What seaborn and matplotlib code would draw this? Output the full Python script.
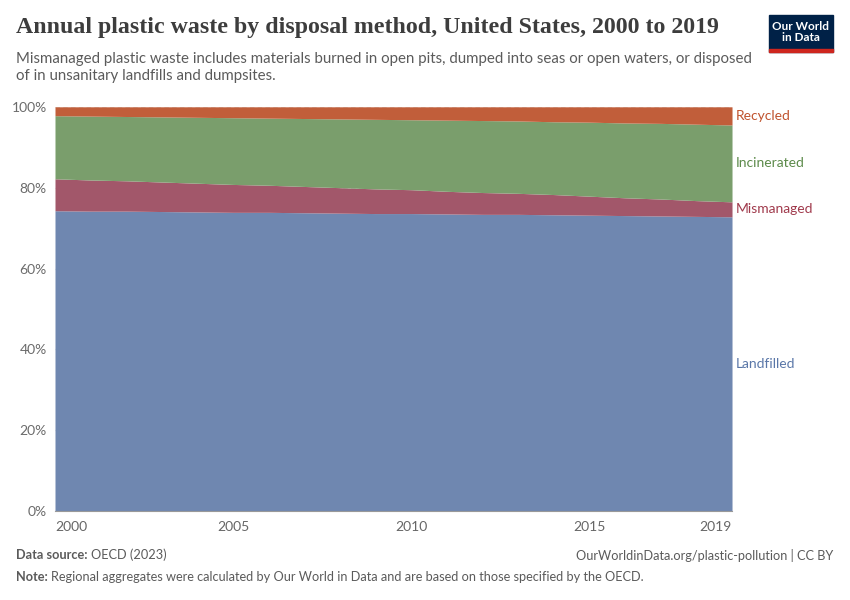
import numpy as np
import pandas as pd
import seaborn as sns
import matplotlib.pyplot as plt
from matplotlib.patches import Rectangle
from matplotlib.transforms import offset_copy

years = list(range(2000, 2020))
landfilled = [74.3, 74.2, 74.2, 74.1, 74.0, 73.9, 73.9, 73.8, 73.7, 73.6,
              73.6, 73.5, 73.4, 73.4, 73.3, 73.2, 73.1, 73.0, 72.9, 72.8]
mismanaged = [7.9, 7.7, 7.5, 7.3, 7.1, 6.9, 6.7, 6.5, 6.3, 6.1,
              5.9, 5.6, 5.4, 5.2, 5.0, 4.7, 4.4, 4.2, 3.9, 3.7]
incinerated = [15.6, 15.8, 15.9, 16.1, 16.3, 16.5, 16.6, 16.8, 17.0, 17.2,
               17.3, 17.6, 17.8, 17.9, 18.0, 18.3, 18.5, 18.7, 18.9, 19.0]
recycled = [2.2, 2.3, 2.4, 2.5, 2.6, 2.7, 2.8, 2.9, 3.0, 3.1,
            3.2, 3.3, 3.4, 3.5, 3.7, 3.8, 4.0, 4.1, 4.3, 4.5]

series_names = ['Landfilled', 'Mismanaged', 'Incinerated', 'Recycled']
fill_colors = ['#6F87B0', '#A2576A', '#7A9E6C', '#C15E3A']
label_colors = ['#5A77A8', '#A03A4C', '#5C8A4A', '#C0532E']
xticks = [2000, 2005, 2010, 2015, 2019]
yticks = [0, 20, 40, 60, 80, 100]

df = pd.DataFrame({'year': years, 'Landfilled': landfilled, 'Mismanaged': mismanaged,
                   'Incinerated': incinerated, 'Recycled': recycled})

sns.set_style("white")
plt.rcParams['font.family'] = ['Lato', 'DejaVu Sans']

fig = plt.figure(figsize=(8.5, 6), dpi=100)
ax = fig.add_axes([0.0647, 0.148, 0.7965, 0.674])

for y in yticks:
    ax.axhline(y, color='#dddddd', lw=0.8, ls=(0, (4, 3)), zorder=0)

ax.stackplot(df['year'], [df[s] for s in series_names], colors=fill_colors,
             lw=0, zorder=2)

ax.set_xlim(2000, 2019)
ax.set_ylim(0, 100)
ax.set_xticks(xticks)
xl = ax.set_xticklabels([str(x) for x in xticks], fontsize=10, color='#666666')
xl[0].set_ha('left')
xl[-1].set_ha('right')
ax.set_yticks(yticks)
ax.set_yticklabels([f'{y}%' for y in yticks], fontsize=10, color='#6b6b6b')
ax.tick_params(axis='x', length=5, color='#999999', pad=2)
ax.tick_params(axis='y', length=0, pad=6)
for sp in ['top', 'right', 'left']:
    ax.spines[sp].set_visible(False)
ax.spines['bottom'].set_color('#999999')
ax.spines['bottom'].set_linewidth(0.8)

# right-side labels at mid of each band in final year
cum = 0
tr = offset_copy(ax.transData, fig=fig, x=4, y=0, units='dots')
for name, col in zip(series_names, label_colors):
    v = df[name].iloc[-1]
    mid = cum + v / 2
    cum += v
    ax.text(2019, mid, name, color=col, fontsize=10, va='center', ha='left', transform=tr)

fig.text(0.019, 0.955, 'Annual plastic waste by disposal method, United States, 2000 to 2019',
         family=['Liberation Serif', 'DejaVu Serif'], fontsize=17.2, fontweight='bold',
         color='#3d3d3d', va='center', ha='left')
fig.text(0.019, 0.888, 'Mismanaged plastic waste includes materials burned in open pits, dumped into seas or open waters, or disposed\nof in unsanitary landfills and dumpsites.',
         fontsize=10.8, color='#5b5b5b', va='center', ha='left', linespacing=1.25)

fig.canvas.draw()
r = fig.canvas.get_renderer()

def label_pair(x, y, bold, rest):
    t = fig.text(x, y, bold, fontsize=9.2, color='#5b5b5b', fontweight='bold', va='center')
    w = t.get_window_extent(r).width / fig.bbox.width
    fig.text(x + w + 3 / 850, y, rest, fontsize=9.2, color='#5b5b5b', va='center')

label_pair(0.019, 0.075, 'Data source:', 'OECD (2023)')
label_pair(0.019, 0.038, 'Note:', 'Regional aggregates were calculated by Our World in Data and are based on those specified by the OECD.')
fig.text(0.98, 0.075, 'OurWorldinData.org/plastic-pollution | CC BY', fontsize=9.2,
         color='#5b5b5b', va='center', ha='right')

# logo
fig.patches.append(Rectangle((769 / 850, 1 - 52 / 600), 64 / 850, 37 / 600,
                             transform=fig.transFigure, color='#002147', zorder=5))
fig.patches.append(Rectangle((769 / 850, 1 - 52 / 600), 64 / 850, 3 / 600,
                             transform=fig.transFigure, color='#CE261E', zorder=6))
fig.text(801 / 850, 1 - 32 / 600, 'Our World\nin Data', color='white', fontsize=8.5,
         fontweight='bold', ha='center', va='center', linespacing=1.0, zorder=7)

fig.savefig('out.png', dpi=100)
